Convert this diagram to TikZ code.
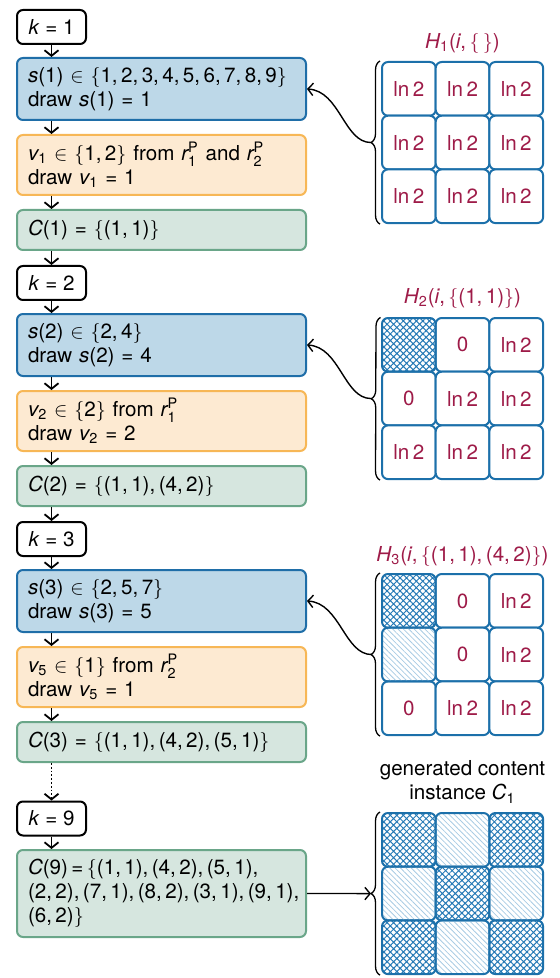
\documentclass[tikz,border=0pt]{standalone}
\usepackage{amsmath}
\usepackage{fontspec}
\setmainfont{TeX Gyre Heros}
\usetikzlibrary{arrows.meta,patterns.meta,decorations.pathreplacing,calc}
\definecolor{sfill}{RGB}{189,216,232}
\definecolor{sline}{RGB}{31,110,168}
\definecolor{vfill}{RGB}{253,234,210}
\definecolor{vline}{RGB}{247,183,86}
\definecolor{cfill}{RGB}{214,230,223}
\definecolor{cline}{RGB}{106,166,137}
\definecolor{maroon}{RGB}{158,27,72}
\definecolor{gline}{RGB}{28,112,170}
\definecolor{hatchc}{RGB}{38,122,182}
\definecolor{diagc}{RGB}{168,203,227}
\newcommand\fnt{\fontsize{10.3}{12}\selectfont}
\newcommand\sbx[2]{$\textit{#1}_{\text{#2}}$}
\newcommand\rpx[1]{$\textit{r}^{\text{P}}_{\text{#1}}$}
\begin{document}
\begin{tikzpicture}[x=0.5pt,y=-0.5pt,
  every node/.style={font=\fnt},
  base/.style={rounded corners=3pt, line width=1pt},
  kbox/.style={base, draw=black, fill=white, minimum width=34.5pt, minimum height=17pt, inner sep=0pt},
  lbox/.style={base, text width=133.5pt, inner xsep=5.5pt, inner ysep=0pt, align=left},
  sbox/.style={lbox, draw=sline, fill=sfill, minimum height=31pt},
  vbox/.style={lbox, draw=vline, fill=vfill, minimum height=30pt},
  cbox/.style={lbox, draw=cline, fill=cfill, minimum height=20pt},
  arr/.style={line width=0.9pt, -{Straight Barb[length=2.8pt,width=7pt]}},
  conn/.style={line width=0.7pt, -{Straight Barb[length=2.6pt,width=6.2pt]}},
  cell/.style={draw=gline, line width=1pt, rounded corners=3pt, minimum size=26.85pt, inner sep=0pt, text=maroon, fill=white},
  cross/.style={pattern={Hatch[angle=45,distance=2.3pt,line width=0.5pt]}, pattern color=hatchc},
  diag/.style={pattern={Lines[angle=-45,distance=1.9pt,line width=0.4pt]}, pattern color=diagc},
  brc/.style={line width=0.65pt, decorate, decoration={brace, amplitude=4.5pt}},
  title/.style={text=maroon}
]
\useasboundingbox (0,0) rectangle (560,978);

% ---------- left column ----------
\node[kbox] (k1) at (51.5,27) {\textit{k} = 1};
\node[sbox] (s1) at (161.5,89) {\textit{s}(1) $\in$ $\{$1,\,2,\,3,\,4,\,5,\,6,\,7,\,8,\,9$\}$\\draw \textit{s}(1) = 1};
\node[vbox] (v1) at (161.5,165) {\sbx{v}{1} $\in$ $\{$1,\,2$\}$ from \rpx{1} and \rpx{2}\\draw \sbx{v}{1} = 1};
\node[cbox] (c1) at (161.5,230) {\textit{C}(1) = $\{$(1,\,1)$\}$};

\node[kbox] (k2) at (51.5,283) {\textit{k} = 2};
\node[sbox] (s2) at (161.5,345) {\textit{s}(2) $\in$ $\{$2,\,4$\}$\\draw \textit{s}(2) = 4};
\node[vbox] (v2) at (161.5,421) {\sbx{v}{2} $\in$ $\{$2$\}$ from \rpx{1}\\draw \sbx{v}{2} = 2};
\node[cbox] (c2) at (161.5,486) {\textit{C}(2) = $\{$(1,\,1),\,(4,\,2)$\}$};

\node[kbox] (k3) at (51.5,539) {\textit{k} = 3};
\node[sbox] (s3) at (161.5,601) {\textit{s}(3) $\in$ $\{$2,\,5,\,7$\}$\\draw \textit{s}(3) = 5};
\node[vbox] (v3) at (161.5,677) {\sbx{v}{5} $\in$ $\{$1$\}$ from \rpx{2}\\draw \sbx{v}{5} = 1};
\node[cbox] (c3) at (161.5,742) {\textit{C}(3) = $\{$(1,\,1),\,(4,\,2),\,(5,\,1)$\}$};

\node[kbox] (k9) at (51.5,818.5) {\textit{k} = 9};
\node[cbox, minimum height=43.5pt] (c9) at (161.5,893.5) {\mbox{\textit{C}(9)\,=\,$\{$(1,\,1),\,(4,\,2),\,(5,\,1),}\\\mbox{(2,\,2),\,(7,\,1),\,(8,\,2),\,(3,\,1),\,(9,\,1),}\\(6,\,2)$\}$};

\draw[arr] (k1.south) -- (k1.south |- s1.north);
\draw[arr] (k1.south |- s1.south) -- (k1.south |- v1.north);
\draw[arr] (k1.south |- v1.south) -- (k1.south |- c1.north);
\draw[arr] (k1.south |- c1.south) -- (k2.north);
\draw[arr] (k2.south) -- (k2.south |- s2.north);
\draw[arr] (k2.south |- s2.south) -- (k2.south |- v2.north);
\draw[arr] (k2.south |- v2.south) -- (k2.south |- c2.north);
\draw[arr] (k2.south |- c2.south) -- (k3.north);
\draw[arr] (k3.south) -- (k3.south |- s3.north);
\draw[arr] (k3.south |- s3.south) -- (k3.south |- v3.north);
\draw[arr] (k3.south |- v3.south) -- (k3.south |- c3.north);
\draw[arr, dash pattern=on 0.9pt off 1pt] (k3.south |- c3.south) -- (k9.north);
\draw[arr] (k9.south) -- (k9.south |- c9.north);

% ---------- grid 1 ----------
\node[title] (h1) at (462.5,43) {$\textit{H}_{\text{1}}$(\textit{i},\,$\{\,\}$)};
\foreach \r in {1,2,3}{\foreach \c in {1,2,3}{
  \node[cell] (ga\r\c) at ({408.85+53.7*(\c-1)},{88.85+53.7*(\r-1)}) {ln\,2};}}
% ---------- grid 2 ----------
\node[title] (h2) at (462.5,298) {$\textit{H}_{\text{2}}$(\textit{i},\,$\{$(1,\,1)$\}$)};
\foreach \r/\c/\txt in {1/2/0,1/3/ln\,2,2/1/0,2/2/ln\,2,2/3/ln\,2,3/1/ln\,2,3/2/ln\,2,3/3/ln\,2}{
  \node[cell] (gb\r\c) at ({408.85+53.7*(\c-1)},{344.85+53.7*(\r-1)}) {\txt};}
\node[cell,cross] (gb11) at (408.85,344.85) {};
% ---------- grid 3 ----------
\node[title] (h3) at (462.5,556) {$\textit{H}_{\text{3}}$(\textit{i},\,$\{$(1,\,1),\,(4,\,2)$\}$)};
\foreach \r/\c/\txt in {1/2/0,1/3/ln\,2,2/2/0,2/3/ln\,2,3/1/0,3/2/ln\,2,3/3/ln\,2}{
  \node[cell] (gc\r\c) at ({408.85+53.7*(\c-1)},{600.85+53.7*(\r-1)}) {\txt};}
\node[cell,cross] (gc11) at (408.85,600.85) {};
\node[cell,diag] (gc21) at (408.85,654.55) {};
% ---------- grid 4 ----------
\node[align=center] (h4) at (462.5,782) {generated content\\instance $\textit{C}_{\text{1}}$};
\foreach \r/\c in {1/1,1/3,2/2,3/1,3/3}{
  \node[cell,cross] (gd\r\c) at ({408.85+53.7*(\c-1)},{839.85+53.7*(\r-1)}) {};}
\foreach \r/\c in {1/2,2/1,2/3,3/2}{
  \node[cell,diag] (gd\r\c) at ({408.85+53.7*(\c-1)},{839.85+53.7*(\r-1)}) {};}

% ---------- braces and connectors ----------
\foreach \g in {a,b,c,d}{
  \draw[brc] ([xshift=-0.5pt]g\g31.south west) -- ([xshift=-0.5pt]g\g11.north west);
  \coordinate (t\g) at ($(g\g21.west)+(-5pt,0)$);
}
\draw[conn] (ta) .. controls +(-27,0) and +(33,2) .. (s1.east);
\draw[conn] (tb) .. controls +(-27,0) and +(33,2) .. (s2.east);
\draw[conn] (tc) .. controls +(-27,0) and +(33,2) .. (s3.east);
\draw[conn] (c9.east) -- (td);
\end{tikzpicture}
\end{document}
